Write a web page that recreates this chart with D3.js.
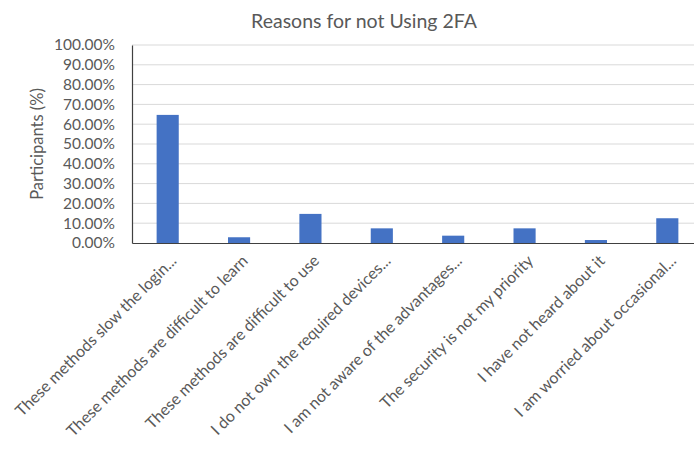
<!DOCTYPE html>
<html>
<head>
<meta charset="utf-8">
<script src="https://cdn.jsdelivr.net/npm/d3@7"></script>
<style>
  html, body { margin: 0; padding: 0; background: #fff; overflow: hidden; }
  svg { display: block; font-family: Lato, "Open Sans", sans-serif; }
</style>
</head>
<body>
<svg id="chart" width="694" height="451"></svg>
<script>
// Survey answers and their share of participants (%)
const categories = [
  "These methods slow the login...",
  "These methods are difficult to learn",
  "These methods are difficult to use",
  "I do not own the required devices...",
  "I am not aware of the advantages...",
  "The security is not my priority",
  "I have not heard about it",
  "I am worried about occasional..."
];
const values = [64.7, 2.9, 14.7, 7.4, 3.7, 7.4, 1.5, 12.5];
const yTicks = [0, 10, 20, 30, 40, 50, 60, 70, 80, 90, 100];

const title = "Reasons for not Using 2FA";
const yTitle = "Participants (%)";

const svg = d3.select("#chart");
const W = 694, H = 451;
// plot area runs a little past the right edge of the canvas
const plot = { left: 132, top: 45, width: 571, height: 198 };

const x = d3.scaleBand().domain(categories).range([0, plot.width]).paddingInner(0.69).paddingOuter(0.345);
const y = d3.scaleLinear().domain([0, 100]).range([plot.height, 0]);

const g = svg.append("g").attr("transform", `translate(${plot.left},${plot.top})`);

// horizontal gridlines
g.append("g")
  .selectAll("line")
  .data(yTicks.filter(d => d > 0))
  .join("line")
  .attr("x1", 0).attr("x2", plot.width)
  .attr("y1", d => y(d)).attr("y2", d => y(d))
  .attr("stroke", "#d9d9d9").attr("stroke-width", 1);

// y axis
const yAxis = g.append("g")
  .call(d3.axisLeft(y).tickValues(yTicks).tickSize(0).tickPadding(17)
    .tickFormat(d => d.toFixed(2) + "%"));
yAxis.select(".domain").attr("stroke", "#404040").attr("stroke-width", 1.2);
yAxis.selectAll("text").attr("fill", "#595959").attr("font-size", 15.5).attr("font-family", "Lato, sans-serif");

// bars
g.append("g")
  .selectAll("rect")
  .data(values)
  .join("rect")
  .attr("x", (d, i) => x(categories[i]))
  .attr("y", d => y(d))
  .attr("width", x.bandwidth())
  .attr("height", d => plot.height - y(d))
  .attr("fill", "#4472c4");

// x axis
const xAxis = g.append("g")
  .attr("transform", `translate(0,${plot.height})`)
  .call(d3.axisBottom(x).tickSize(0).tickSizeOuter(0).tickPadding(0));
xAxis.select(".domain").attr("stroke", "#404040").attr("stroke-width", 1.2);
xAxis.selectAll("text")
  .attr("fill", "#595959")
  .attr("font-size", 16)
  .attr("font-family", "Lato, sans-serif")
  .attr("text-anchor", "end")
  .attr("dy", null)
  .attr("y", 0)
  .attr("transform", "translate(7,16) rotate(-45)")
  .attr("dominant-baseline", "middle");

// chart title
svg.append("text")
  .attr("x", 364).attr("y", 28)
  .attr("text-anchor", "middle")
  .attr("fill", "#595959")
  .attr("font-size", 19.5)
  .text(title);

// y axis title
svg.append("text")
  .attr("transform", `translate(43,${plot.top + plot.height / 2}) rotate(-90)`)
  .attr("text-anchor", "middle")
  .attr("fill", "#595959")
  .attr("font-size", 16.5)
  .text(yTitle);
</script>
</body>
</html>
